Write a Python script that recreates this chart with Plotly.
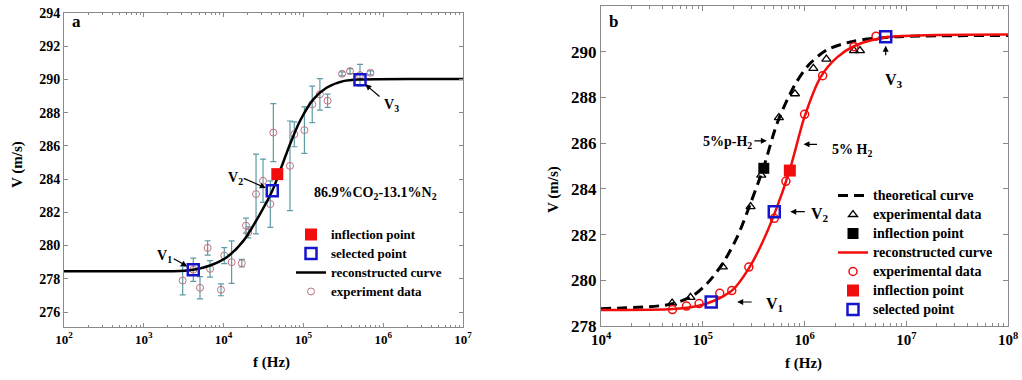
import numpy as np
import plotly.graph_objects as go

# ---------------- Panel a data ----------------
a_curve_f = [1e2, 1e3, 2845, 4169, 6761, 10965, 17783, 28576, 40738, 50933, 67920, 90573, 133045, 194984, 316228, 512861, 1e7]
a_curve_v = [278.46, 278.46, 278.47, 278.54, 278.80, 279.30, 280.30, 281.90, 283.30, 284.50, 286.10, 287.50, 288.80, 289.50, 289.90, 290.00, 290.02]

a_exp_f = [3070, 4170, 5060, 6310, 6760, 9270, 10200, 12600, 16900, 19100, 20400, 25500, 31200, 38500,
           42000, 67900, 76900, 103000, 129000, 161000, 201000, 305000, 384000, 512000, 692000]
a_exp_v = [277.90, 278.55, 277.46, 279.86, 278.60, 277.34, 279.40, 279.00, 278.94, 281.20, 280.80, 283.10, 283.90, 282.50,
           286.80, 284.80, 286.70, 286.95, 288.50, 289.10, 288.72, 290.34, 290.50, 290.26, 290.40]
a_exp_err = [0.87, 0.70, 0.67, 0.43, 0.50, 0.36, 0.48, 1.28, 0.23, 0.45, 0.33, 2.40, 1.30, 1.40,
             1.75, 2.70, 0.75, 1.40, 1.10, 0.95, 0.40, 0.12, 0.15, 0.65, 0.12]

a_sel_f = [4170, 40740, 512000]
a_sel_v = [278.54, 283.30, 289.98]
a_inf_f = [47100]
a_inf_v = [284.30]

# ---------------- Panel b data ----------------
b_theory_f = [1e4, 48080, 81470, 110400, 157400, 218300, 295100, 398100, 539500, 787000, 1104000, 1675000, 3062000, 7586000, 1e8]
b_theory_v = [278.76, 278.95, 279.35, 279.86, 280.74, 281.90, 283.37, 284.97, 286.88, 288.48, 289.43, 290.09, 290.46, 290.65, 290.71]

b_tri_f = [50000, 75700, 157400, 295100, 375800, 559800, 805400, 1222000, 1641000, 3062000, 3508000]
b_tri_v = [279.00, 279.25, 280.59, 283.22, 284.60, 287.12, 288.16, 289.27, 289.68, 290.05, 290.05]

b_rec_f = [1e4, 50120, 93330, 120200, 158500, 199500, 281800, 371500, 501200, 724400, 1000000, 1445000, 2089000, 3090000, 6310000, 15850000, 1e8]
b_rec_v = [278.70, 278.74, 278.90, 279.05, 279.30, 279.60, 280.50, 281.50, 282.85, 284.90, 287.15, 288.90, 289.75, 290.25, 290.63, 290.72, 290.75]

b_circ_f = [50350, 69180, 92040, 146900, 192800, 283800, 504700, 656100, 1002000, 1507000, 3062000, 5047000]
b_circ_v = [278.72, 278.87, 278.98, 279.43, 279.55, 280.58, 282.71, 284.33, 287.26, 288.95, 290.22, 290.68]

b_infk_f = [398100]
b_infk_v = [284.90]
b_infr_f = [717800]
b_infr_v = [284.80]
b_sel_f = [121100, 504700, 6281000]
b_sel_v = [279.05, 283.00, 290.65]

a_yticks = [276, 278, 280, 282, 284, 286, 288, 290, 292, 294]
a_xticks = [1e2, 1e3, 1e4, 1e5, 1e6, 1e7]
b_yticks = [278, 280, 282, 284, 286, 288, 290]
b_xticks = [1e4, 1e5, 1e6, 1e7, 1e8]

FONT = "Liberation Serif"
RED = "#f20d0d"
BLUE = "#1515cc"
PINK = "#c0707f"
TEAL = "#5e9ba6"


def lg(text, px):
    # legend label rendered at px size; legend font size controls row spacing
    return '<span style="font-size:%dpx">%s</span>' % (px, text)


fig = go.Figure()

# ----- panel a traces -----
fig.add_trace(go.Scatter(x=a_exp_f, y=a_exp_v, mode="markers", name=lg("experiment data", 13),
                         marker=dict(symbol="circle-open", size=7, color=PINK, line=dict(width=1)),
                         error_y=dict(type="data", array=a_exp_err, color=TEAL, thickness=1.2, width=3),
                         xaxis="x", yaxis="y", legend="legend", legendrank=4))
fig.add_trace(go.Scatter(x=a_curve_f, y=a_curve_v, mode="lines", name=lg("reconstructed curve", 13),
                         line=dict(color="black", width=2.5, shape="spline", smoothing=0.8),
                         xaxis="x", yaxis="y", legend="legend", legendrank=3))
fig.add_trace(go.Scatter(x=a_inf_f, y=a_inf_v, mode="markers", name=lg("inflection point", 13),
                         marker=dict(symbol="square", size=12, color=RED, line=dict(width=0)),
                         xaxis="x", yaxis="y", legend="legend", legendrank=1))
fig.add_trace(go.Scatter(x=a_sel_f, y=a_sel_v, mode="markers", name=lg("selected point", 13),
                         marker=dict(symbol="square-open", size=11, color=BLUE, line=dict(width=2.5)),
                         xaxis="x", yaxis="y", legend="legend", legendrank=2))

# ----- panel b traces -----
fig.add_trace(go.Scatter(x=b_theory_f, y=b_theory_v, mode="lines", name=lg("theoretical curve", 14),
                         line=dict(color="black", width=3, dash="10px,6px", shape="spline", smoothing=0.8),
                         xaxis="x2", yaxis="y2", legend="legend2", legendrank=1))
fig.add_trace(go.Scatter(x=b_tri_f, y=b_tri_v, mode="markers", name=lg("experimental data", 14),
                         marker=dict(symbol="triangle-up-open", size=8, color="black", line=dict(width=1.3)),
                         xaxis="x2", yaxis="y2", legend="legend2", legendrank=2))
fig.add_trace(go.Scatter(x=b_infk_f, y=b_infk_v, mode="markers", name=lg("inflection point", 14),
                         marker=dict(symbol="square", size=11, color="black"),
                         xaxis="x2", yaxis="y2", legend="legend2", legendrank=3))
fig.add_trace(go.Scatter(x=b_rec_f, y=b_rec_v, mode="lines", name=lg("reconstructed curve", 14),
                         line=dict(color=RED, width=2.5, shape="spline", smoothing=0.8),
                         xaxis="x2", yaxis="y2", legend="legend2", legendrank=4))
fig.add_trace(go.Scatter(x=b_circ_f, y=b_circ_v, mode="markers", name=lg("experimental data", 14),
                         marker=dict(symbol="circle-open", size=8, color=RED, line=dict(width=1.5)),
                         xaxis="x2", yaxis="y2", legend="legend2", legendrank=5))
fig.add_trace(go.Scatter(x=b_infr_f, y=b_infr_v, mode="markers", name=lg("inflection point", 14),
                         marker=dict(symbol="square", size=12, color=RED),
                         xaxis="x2", yaxis="y2", legend="legend2", legendrank=6))
fig.add_trace(go.Scatter(x=b_sel_f, y=b_sel_v, mode="markers", name=lg("selected point", 14),
                         marker=dict(symbol="square-open", size=11, color=BLUE, line=dict(width=2.5)),
                         xaxis="x2", yaxis="y2", legend="legend2", legendrank=7))


def sup_labels(vals):
    return ["10<sup>%d</sup>" % int(round(np.log10(v))) for v in vals]


def minor_vals(lo, hi):
    out = []
    for e in range(lo, hi):
        for k in range(2, 10):
            out.append(k * 10 ** e)
    return out


W, H = 1022, 380
common = dict(showline=True, linecolor="#8a8a8a", linewidth=1, mirror="allticks", ticks="inside",
              tickcolor="#8a8a8a", showgrid=False, zeroline=False, automargin=False)

fig.update_layout(
    width=W, height=H, margin=dict(l=0, r=0, t=0, b=0),
    paper_bgcolor="white", plot_bgcolor="white",
    font=dict(family=FONT, color="black"),
    xaxis=dict(type="log", range=[2, 7], domain=[64 / W, 463 / W], anchor="y",
               tickvals=a_xticks, ticktext=sup_labels(a_xticks), ticklen=4,
               tickfont=dict(size=13, family=FONT, weight="bold"),
               minor=dict(tickvals=minor_vals(2, 7), ticks="inside", ticklen=2, tickcolor="#8a8a8a"),
               **common),
    yaxis=dict(range=[275.1, 294], domain=[1 - 327 / H, 1 - 13 / H], anchor="x",
               tickvals=a_yticks, ticklen=4, tickfont=dict(size=14, family=FONT, weight="bold"),
               **common),
    xaxis2=dict(type="log", range=[4, 8], domain=[601 / W, 1008 / W], anchor="y2",
                tickvals=b_xticks, ticktext=sup_labels(b_xticks), ticklen=5,
                tickfont=dict(size=15, family=FONT, weight="bold"),
                minor=dict(tickvals=minor_vals(4, 8), ticks="inside", ticklen=3, tickcolor="#8a8a8a"),
                **common),
    yaxis2=dict(range=[278, 292], domain=[1 - 326 / H, 1 - 6 / H], anchor="x2",
                tickvals=b_yticks, ticklen=5, tickfont=dict(size=17, family=FONT, weight="bold"),
                **common),
    legend=dict(x=291 / W, y=1 - 220 / H, xanchor="left", yanchor="top", bgcolor="rgba(0,0,0,0)",
                font=dict(size=12.3, family=FONT, weight="bold"), tracegroupgap=0, itemwidth=30),
    legend2=dict(x=833 / W, y=1 - 181 / H, xanchor="left", yanchor="top", bgcolor="rgba(0,0,0,0)",
                 font=dict(size=11, family=FONT, weight="bold"), tracegroupgap=0, itemwidth=30),
    showlegend=True,
)

ann = []
bold = dict(family=FONT, weight="bold", color="black")


def ptext(px, py, text, size, angle=0):
    ann.append(dict(xref="paper", yref="paper", x=px / W, y=1 - py / H, text=text, showarrow=False,
                    font=dict(size=size, **bold), textangle=angle, xanchor="center", yanchor="middle"))


def arrow(xa, ya, f, v, ax, ay, standoff=0, width=1.2, head=2, size=1.0):
    ann.append(dict(xref=xa, yref=ya, x=np.log10(f), y=v, ax=ax, ay=ay, axref="pixel", ayref="pixel",
                    text="", showarrow=True, arrowhead=head, arrowsize=size, arrowwidth=width,
                    arrowcolor="black", standoff=standoff))


# panel a texts
ptext(76, 22, "a", 17)
ptext(17, 165, "V (m/s)", 15, -90)
ptext(271, 362, "f (Hz)", 15)
ptext(375, 193, "86.9%CO<sub>2</sub>-13.1%N<sub>2</sub>", 14)
ptext(164, 256, "V<sub>1</sub>", 14)
ptext(235, 178, "V<sub>2</sub>", 14)
ptext(391, 106, "V<sub>3</sub>", 14)
arrow("x", "y", a_sel_f[0], a_sel_v[0], -21, -12, standoff=7)
arrow("x", "y", a_sel_f[1], a_sel_v[1], -30, -13, standoff=7)
arrow("x", "y", a_sel_f[2], a_sel_v[2], 21, 18, standoff=7)

# panel b texts
ptext(613, 22, "b", 17)
ptext(553, 190, "V (m/s)", 15, -90)
ptext(803, 363, "f (Hz)", 15)
ptext(727, 143, "5%p-H<sub>2</sub>", 14)
ptext(852, 150, "5% H<sub>2</sub>", 14)
ptext(820, 214, "V<sub>2</sub>", 16)
ptext(775, 304, "V<sub>1</sub>", 16)
ptext(894, 80, "V<sub>3</sub>", 16)
# arrows in panel b (head positions next to curves, tails offset in pixels)
arrow("x2", "y2", 10 ** 5.63, 286.1, -14, 0, head=2)
arrow("x2", "y2", 10 ** 5.99, 285.95, 15, 0, head=2)
arrow("x2", "y2", b_sel_f[1], b_sel_v[1], 32, 0, standoff=16, head=2)
arrow("x2", "y2", b_sel_f[0], b_sel_v[0], 42, 0, standoff=26, head=2)
arrow("x2", "y2", b_sel_f[2], b_sel_v[2], 0, 20, standoff=9, head=2)

fig.update_layout(annotations=ann)

fig.write_html("out.html")
